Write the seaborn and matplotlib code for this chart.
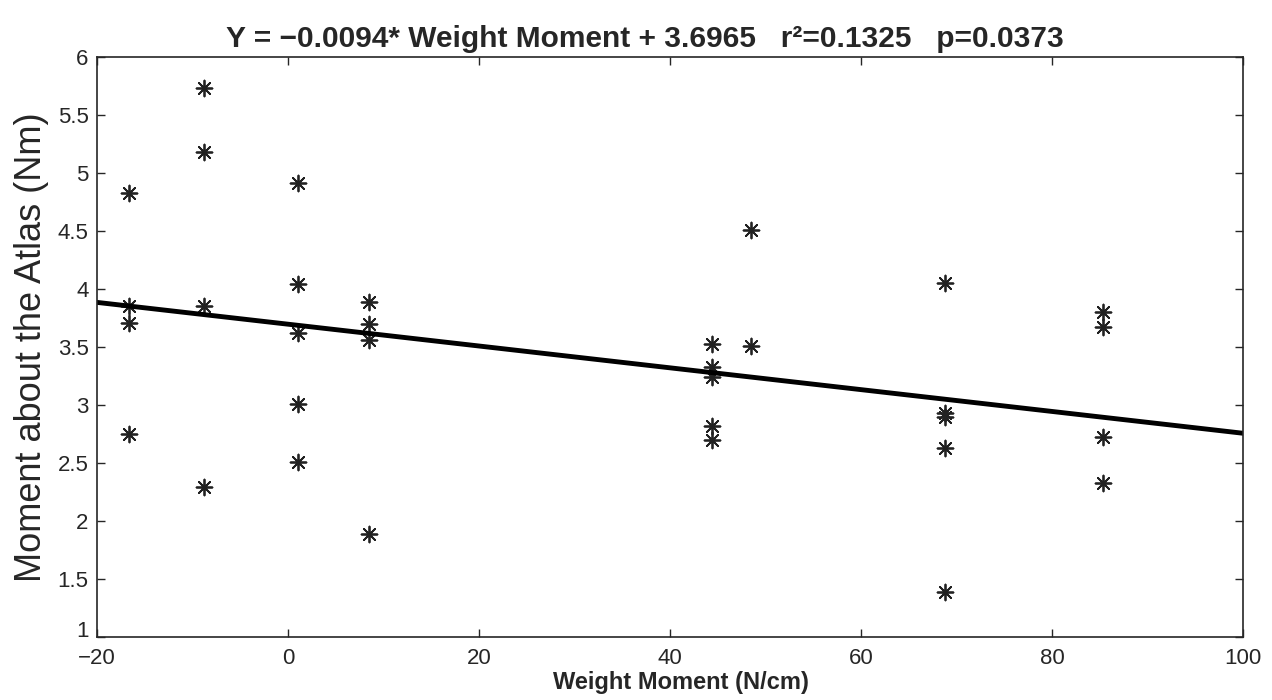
import numpy as np
import pandas as pd
import matplotlib
matplotlib.use('Agg')
import matplotlib.pyplot as plt
import seaborn as sns

# data
weight_moment = [-16.7, -16.7, -16.7, -16.7,
                 -8.8, -8.8, -8.8, -8.8,
                 1.0, 1.0, 1.0, 1.0, 1.0,
                 8.5, 8.5, 8.5, 8.5,
                 44.4, 44.4, 44.4, 44.4, 44.4,
                 48.5, 48.5,
                 68.8, 68.8, 68.8, 68.8, 68.8,
                 85.4, 85.4, 85.4, 85.4]
atlas_moment = [4.83, 3.85, 3.71, 2.75,
                5.73, 5.18, 3.85, 2.29,
                4.91, 4.04, 3.62, 3.01, 2.51,
                3.89, 3.70, 3.56, 1.89,
                3.53, 3.33, 3.24, 2.82, 2.70,
                4.51, 3.51,
                4.05, 2.93, 2.90, 2.63, 1.39,
                3.80, 3.67, 2.72, 2.33]

slope = -0.0094
intercept = 3.6965
r2 = 0.1325
pval = 0.0373

xticks = [-20, 0, 20, 40, 60, 80, 100]
yticks = [1, 1.5, 2, 2.5, 3, 3.5, 4, 4.5, 5, 5.5, 6]

sns.set_style('ticks')
plt.rcParams['font.family'] = ['Liberation Sans', 'DejaVu Sans']

df = pd.DataFrame({'x': weight_moment, 'y': atlas_moment})
fit = pd.DataFrame({'x': [xticks[0], xticks[-1]]})
fit['y'] = slope * fit['x'] + intercept

fig = plt.figure(figsize=(12.72, 7), dpi=100)
ax = fig.add_axes([0.0763, 0.09, 0.9008, 0.8286])

sns.scatterplot(data=df, x='x', y='y', ax=ax, marker=(8, 2, 0), s=130,
                color='#222222', linewidth=1.3, edgecolor='#222222')
sns.lineplot(data=fit, x='x', y='y', ax=ax, color='black', linewidth=3.5)

ax.set_xlim(xticks[0], xticks[-1])
ax.set_ylim(yticks[0], yticks[-1])
ax.set_xticks(xticks)
ax.set_yticks(yticks)
ax.set_xticklabels([str(t).replace('-', '\u2212') for t in xticks])
ax.set_yticklabels(['%g' % t for t in yticks])
ax.tick_params(direction='in', length=6, width=1, labelsize=16,
               top=True, right=True)
ax.tick_params(axis='x', pad=8)
ax.tick_params(axis='y', pad=6)
# lift the bottom "1" a touch so it clears "-20"
ax.get_yticklabels()[0].set_va('baseline')
for sp in ax.spines.values():
    sp.set_linewidth(1.2)
    sp.set_visible(True)

ax.set_xlabel('Weight Moment (N/cm)', fontsize=17, fontweight='bold')
ax.xaxis.set_label_coords(0.51, -0.058)
ax.set_ylabel('Moment about the Atlas (Nm)', fontsize=26, labelpad=6)
ax.set_title('Y = \u22120.0094* Weight Moment + 3.6965   r\u00b2=0.1325   p=0.0373',
             fontsize=21.5, fontweight='bold', pad=7, x=0.478)

fig.savefig('out.png', dpi=100)
